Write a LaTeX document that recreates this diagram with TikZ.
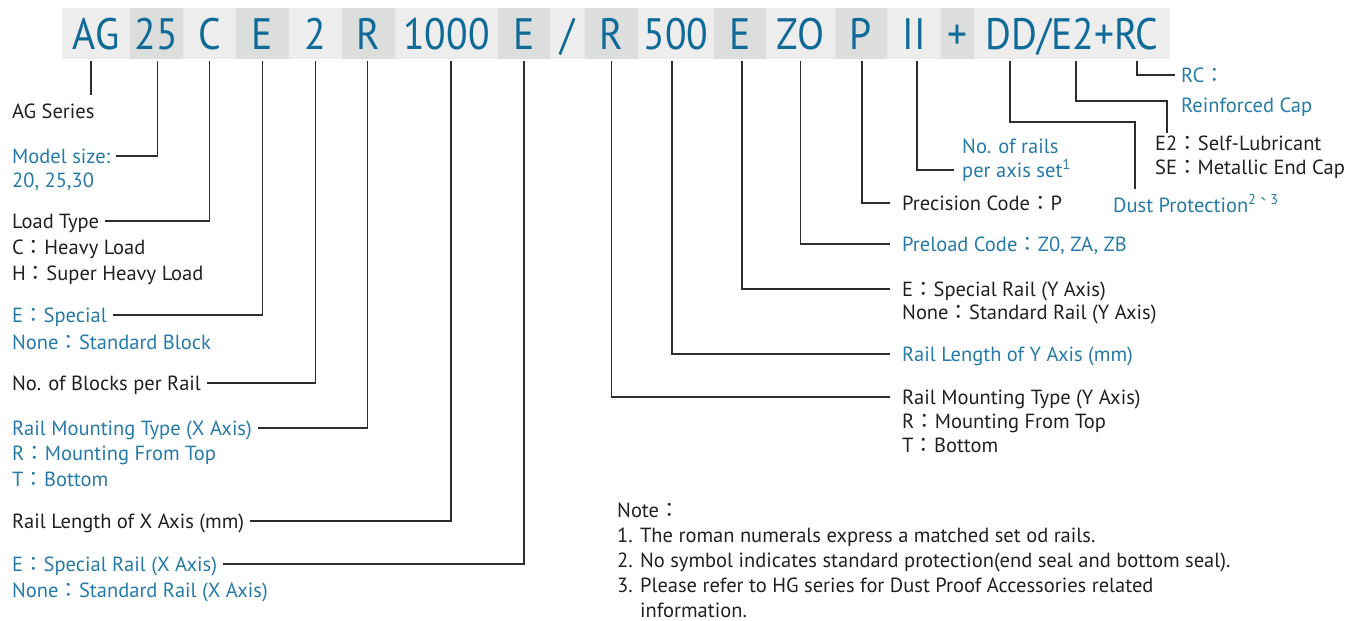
\documentclass[tikz,border=0pt]{standalone}
\usepackage{fontspec}
\setmainfont{PT Sans}
\newfontfamily\cjkfont{Noto Sans CJK TC}
\newfontfamily\codefont[FakeStretch=0.9]{PT Sans}
\usepackage{tikz}
\usetikzlibrary{positioning,calc}
\definecolor{agblue}{RGB}{15,106,152}
\definecolor{agtext}{RGB}{38,122,168}
\definecolor{agblack}{RGB}{35,31,32}
\definecolor{agline}{RGB}{45,45,45}
\definecolor{aglight}{RGB}{237,237,237}
\definecolor{agdark}{RGB}{220,222,221}
\newcommand{\fcol}{{\cjkfont ：}}
\newcommand{\lblsize}{\fontsize{20.5pt}{26pt}\selectfont}
\newcommand{\rgtsize}{\fontsize{20.5pt}{24pt}\selectfont}
\newcommand{\notesize}{\fontsize{20.5pt}{25pt}\selectfont}
\newcommand{\codesize}{\codefont\fontsize{44pt}{44pt}\selectfont}
\newcommand{\rows}[1]{\begin{tabular}[t]{@{}l@{}}#1\end{tabular}}

\begin{document}
\begin{tikzpicture}[x=1pt,y=-1pt,
    code/.style={minimum height=51pt,inner sep=0pt,text=agblue,font=\codesize,
                 text height=31pt,text depth=0pt},
    lbl/.style={anchor=west,inner xsep=6pt,inner ysep=0pt,text height=14.5pt,
                text depth=0pt,font=\lblsize,text=agblack},
    more/.style={anchor=base west,inner xsep=6pt,inner ysep=0pt,font=\lblsize,text=agblack},
    link/.style={draw=agline,line width=1.3pt,shorten <=2pt}]
    \useasboundingbox (0,0) rectangle (1366,621);

    % code row
    \node[code,fill=aglight,minimum width=68pt] (cAG) at (96,33.5) {AG};
    \node[code,fill=agdark,minimum width=53pt] (c25) at (156.5,33.5) {25};
    \node[code,fill=aglight,minimum width=53pt] (cC) at (209.5,33.5) {C};
    \node[code,fill=agdark,minimum width=53pt] (cE) at (262.5,33.5) {E};
    \node[code,fill=aglight,minimum width=53pt] (c2) at (315.5,33.5) {2};
    \node[code,fill=agdark,minimum width=53pt] (cR) at (368.5,33.5) {R};
    \node[code,fill=aglight,minimum width=103pt] (c1000) at (446.5,33.5) {1000};
    \node[code,fill=agdark,minimum width=52pt] (cEx) at (524,33.5) {E};
    \node[code,fill=aglight,minimum width=35pt] (cSl) at (567.5,33.5) {/};
    \node[code,fill=agdark,minimum width=53pt] (cRy) at (611.5,33.5) {R};
    \node[code,fill=aglight,minimum width=76pt] (c500) at (676,33.5) {500};
    \node[code,fill=agdark,minimum width=52pt] (cEy) at (740,33.5) {E};
    \node[code,fill=aglight,minimum width=69pt] (cZO) at (800.5,33.5) {ZO};
    \node[code,fill=agdark,minimum width=52pt] (cP) at (861,33.5) {P};
    \node[code,fill=aglight,minimum width=54pt] (cII) at (914,33.5) {II};
    \node[code,fill=agdark,minimum width=33pt] (cPl) at (957.5,33.5) {+};
    \node[code,fill=aglight,minimum width=196pt] (cDD) at (1072,33.5) {DD/E2+RC};

    % tick points
    \coordinate (tAG) at ([xshift=-5pt]cAG.south);
    \coordinate (t25) at ([xshift=1pt]c25.south);
    \coordinate (tC) at (cC.south);
    \coordinate (tE) at (cE.south);
    \coordinate (t2) at (c2.south);
    \coordinate (tR) at ([xshift=-1pt]cR.south);
    \coordinate (t1000) at ([xshift=4.5pt]c1000.south);
    \coordinate (tEx) at (cEx.south);
    \coordinate (tRy) at (cRy.south);
    \coordinate (t500) at ([xshift=-4pt]c500.south);
    \coordinate (tEy) at ([xshift=2pt]cEy.south);
    \coordinate (tZO) at (cZO.south);
    \coordinate (tP) at ([xshift=1pt]cP.south);
    \coordinate (tII) at ([xshift=3pt]cII.south);
    \coordinate (tDD) at (1010,59);
    \coordinate (tE2) at (1076,59);
    \coordinate (tRC) at (1137,59);
    \coordinate (kDD) at (1135,122);
    \coordinate (kE2) at (1167,101);

    % left labels
    \node[lbl] (lAG) at (6,111) {AG Series};
    \node[lbl,text=agtext] (lSize) at (6,156) {Model size:};
    \node[more,text=agtext] (lSizeR) at (6,187) {20, 25,30};
    \node[lbl] (lLoad) at (6,221) {Load Type};
    \node[more] (lLoadR) at (6,254) {\rows{C\fcol Heavy Load\\H\fcol Super Heavy Load}};
    \node[lbl,text=agtext] (lBlk) at (6,315) {E\fcol Special};
    \node[more,text=agtext] (lBlkR) at (6,349) {None\fcol Standard Block};
    \node[lbl] (lNum) at (6,383) {No. of Blocks per Rail};
    \node[lbl,text=agtext] (lRmx) at (6,428) {Rail Mounting Type (X Axis)};
    \node[more,text=agtext] (lRmxR) at (6,460) {\rows{R\fcol Mounting From Top\\T\fcol Bottom}};
    \node[lbl] (lLenx) at (6,521) {Rail Length of X Axis (mm)};
    \node[lbl,text=agtext] (lRlx) at (6,564) {E\fcol Special Rail (X Axis)};
    \node[more,text=agtext] (lRlxR) at (6,597) {None\fcol Standard Rail (X Axis)};

    % right labels
    \node[lbl,text=agtext] (lRC) at (1175,75) {RC\fcol};
    \node[lbl,text=agtext] (lRCR) at (1175,105) {Reinforced Cap};
    \node[more,font=\rgtsize] (lE2) at (1149,150) {\rows{E2\fcol Self-Lubricant\\SE\fcol Metallic End Cap}};
    \node[lbl,text=agtext] (lRails) at (956,146) {No. of rails};
    \node[lbl,text=agtext] (lRailsB) at (956,170) {per axis set\textsuperscript{1}};
    \node[lbl,text=agtext] (lDust) at (1107,205) {Dust Protection\textsuperscript{2{\cjkfont 、}3}};
    \node[lbl] (lPrec) at (896,203) {Precision Code\fcol P};
    \node[lbl,text=agtext] (lPre) at (896,244) {Preload Code\fcol Z0, ZA, ZB};
    \node[lbl] (lRly) at (896,289) {E\fcol Special Rail (Y Axis)};
    \node[more,font=\rgtsize] (lRlyR) at (896,319) {None\fcol Standard Rail (Y Axis)};
    \node[lbl,text=agtext] (lLeny) at (896,354) {Rail Length of Y Axis (mm)};
    \node[lbl] (lRmy) at (896,397) {Rail Mounting Type (Y Axis)};
    \node[more,font=\rgtsize] (lRmyR) at (896,428) {\rows{R\fcol Mounting From Top\\T\fcol Bottom}};

    % notes
    \node[more,font=\notesize] (notes) at (611,517) {\rows{Note\fcol\\
      1. The roman numerals express a matched set od rails.\\
      2. No symbol indicates standard protection(end seal and bottom seal).\\
      3. Please refer to HG series for Dust Proof Accessories related\\
      \phantom{3. }information.}};

    % connectors
    \draw[link,shorten >=9pt] (tAG) -- (tAG |- lAG.north);
    \draw[link] (t25) |- (lSize.east);
    \draw[link] (tC) |- (lLoad.east);
    \draw[link] (tE) |- (lBlk.east);
    \draw[link] (t2) |- (lNum.east);
    \draw[link] (tR) |- (lRmx.east);
    \draw[link] (t1000) |- (lLenx.east);
    \draw[link] (tEx) |- (lRlx.east);
    \draw[link,shorten >=6pt] (tRy) |- (lRmy.west);
    \draw[link,shorten >=6pt] (t500) |- (lLeny.west);
    \draw[link,shorten >=6pt] (tEy) |- (lRly.west);
    \draw[link,shorten >=6pt] (tZO) |- (lPre.west);
    \draw[link,shorten >=6pt] (tP) |- (lPrec.west);
    \draw[link,shorten >=2pt] (tII) |- (lRailsB.west);
    \draw[link,shorten >=9pt] (tDD) |- (kDD) -- (kDD |- lDust.north);
    \draw[link] (tE2) |- (kE2) -- (kE2 |- lE2.north);
    \draw[link] (tRC) |- (lRC.west);
\end{tikzpicture}
\end{document}
